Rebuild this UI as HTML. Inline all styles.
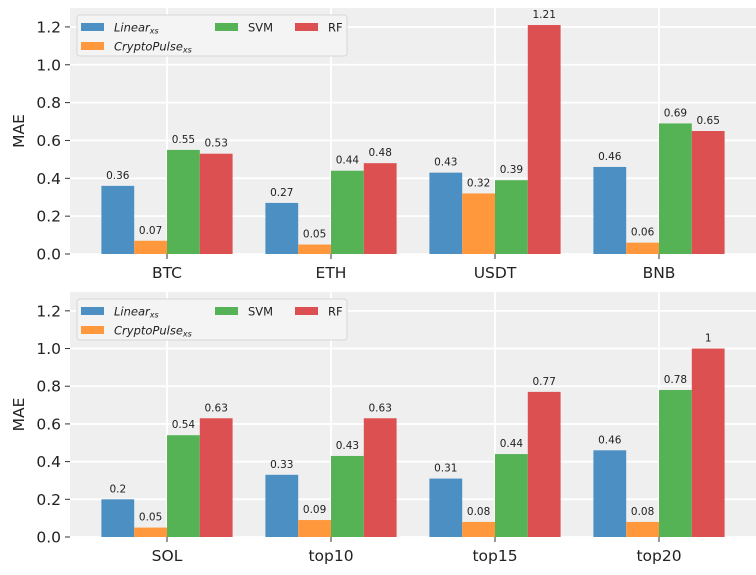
<!DOCTYPE html>
<html><head><meta charset="utf-8">
<style>
body{margin:0;background:#fff;width:756px;height:570px;overflow:hidden;font-family:"Liberation Sans","DejaVu Sans",sans-serif;}
svg text{font-family:"DejaVu Sans","Liberation Sans",sans-serif;}
</style></head>
<body>
<svg id="chart" width="756" height="570" xmlns="http://www.w3.org/2000/svg"></svg>
<script>
const topCategories = ["BTC","ETH","USDT","BNB"];
const bottomCategories = ["SOL","top10","top15","top20"];
const seriesNames = ["Linear","CryptoPulse","SVM","RF"];
const topLinear = [0.36,0.27,0.43,0.46];
const topCrypto = [0.07,0.05,0.32,0.06];
const topSVM = [0.55,0.44,0.39,0.69];
const topRF = [0.53,0.48,1.21,0.65];
const topLabels = [["0.36","0.27","0.43","0.46"],["0.07","0.05","0.32","0.06"],["0.55","0.44","0.39","0.69"],["0.53","0.48","1.21","0.65"]];
const botLinear = [0.2,0.33,0.31,0.46];
const botCrypto = [0.05,0.09,0.08,0.08];
const botSVM = [0.54,0.43,0.44,0.78];
const botRF = [0.63,0.63,0.77,1.0];
const botLabels = [["0.2","0.33","0.31","0.46"],["0.05","0.09","0.08","0.08"],["0.54","0.43","0.44","0.78"],["0.63","0.63","0.77","1"]];
const yTicks = [0,0.2,0.4,0.6,0.8,1.0,1.2];
const yTickLabels = ["0.0","0.2","0.4","0.6","0.8","1.0","1.2"];
const colors = ["#4c8fc3","#ff983d","#55b255","#dd5052"];

const NS="http://www.w3.org/2000/svg";
const svg=document.getElementById('chart');
function mk(tag,attrs,parent){const e=document.createElementNS(NS,tag);for(const k in attrs)e.setAttribute(k,attrs[k]);(parent||svg).appendChild(e);return e;}

function panel(cats, series, labels, top, y0, idx){
  const left=70, right=756;
  const ymax=1.30;
  const yScale=v=>y0-(v/ymax)*(y0-top);
  const xScale=i=>167+i*164;
  const g=mk('g',{});
  
  
  const bg=mk('rect',{x:left,y:top,width:right-left,height:y0-top,fill:'#efefef'},g);
  
  
  yTicks.forEach((t,k)=>{
    const y=yScale(t);
    const gl=mk('line',{x1:left,x2:right,y1:y,y2:y,stroke:'#fff','stroke-width':1.8},g);
    
    
    mk('line',{x1:left-5,x2:left,y1:y,y2:y,stroke:'#333','stroke-width':1},g);
    const tl=mk('text',{x:left-9,y:y+5.5,'text-anchor':'end','font-size':15.5,fill:'#222'},g);
    tl.textContent=yTickLabels[k];
    
    
  });
  cats.forEach((c,i)=>{
    const x=xScale(i);
    const gl=mk('line',{x1:x,x2:x,y1:top,y2:y0,stroke:'#fff','stroke-width':1.8},g);
    
    
  });
  const bw=32.8;
  series.forEach((vals,s)=>{
    vals.forEach((v,i)=>{
      const x=xScale(i)-2*bw+s*bw;
      const y=yScale(v);
      const r=mk('rect',{x:x,y:y,width:bw,height:y0-y,fill:colors[s]},g);
      
      
      const t=mk('text',{x:x+bw/2,y:y-7,'text-anchor':'middle','font-size':10.5,fill:'#222'},g);
      t.textContent=labels[s][i];
      
      
    });
  });
  cats.forEach((c,i)=>{
    const x=xScale(i);
    mk('line',{x1:x,x2:x,y1:y0,y2:y0+5,stroke:'#333','stroke-width':1},g);
    const t=mk('text',{x:x,y:y0+24,'text-anchor':'middle','font-size':15.5,fill:'#222'},g);
    t.textContent=c;
    
    
  });
  const yl=mk('text',{x:0,y:0,'text-anchor':'middle','font-size':15.5,fill:'#222',transform:`translate(24,${(top+y0)/2}) rotate(-90)`},g);
  yl.textContent='MAE';
  
  
  const lg=mk('g',{},g);
  
  
  const ly=top+7;
  mk('rect',{x:77,y:ly,width:270,height:41,rx:3,fill:'#f4f4f4',stroke:'#d6d6d6','stroke-width':1},lg);
  const entries=[[0,81,ly+8,'Linear','xs',true],[1,81,ly+27,'CryptoPulse','xs',true],[2,215,ly+8,'SVM','',false],[3,295,ly+8,'RF','',false]];
  entries.forEach(e=>{
    const [s,x,y,name,sub,it]=e;
    const sw=mk('rect',{x:x,y:y,width:23,height:8,fill:colors[s]},lg);
    
    
    const t=mk('text',{x:x+33,y:y+8.5,'font-size':11.5,fill:'#222','font-style':it?'italic':'normal'},lg);
    t.textContent=name;
    if(sub){const ts=mk('tspan',{'font-size':8,dy:2},t);ts.textContent=sub;}
    
    
  });
}
panel(topCategories,[topLinear,topCrypto,topSVM,topRF],topLabels,8,254,'top');
panel(bottomCategories,[botLinear,botCrypto,botSVM,botRF],botLabels,292,537,'bottom');
</script>
</body></html>
